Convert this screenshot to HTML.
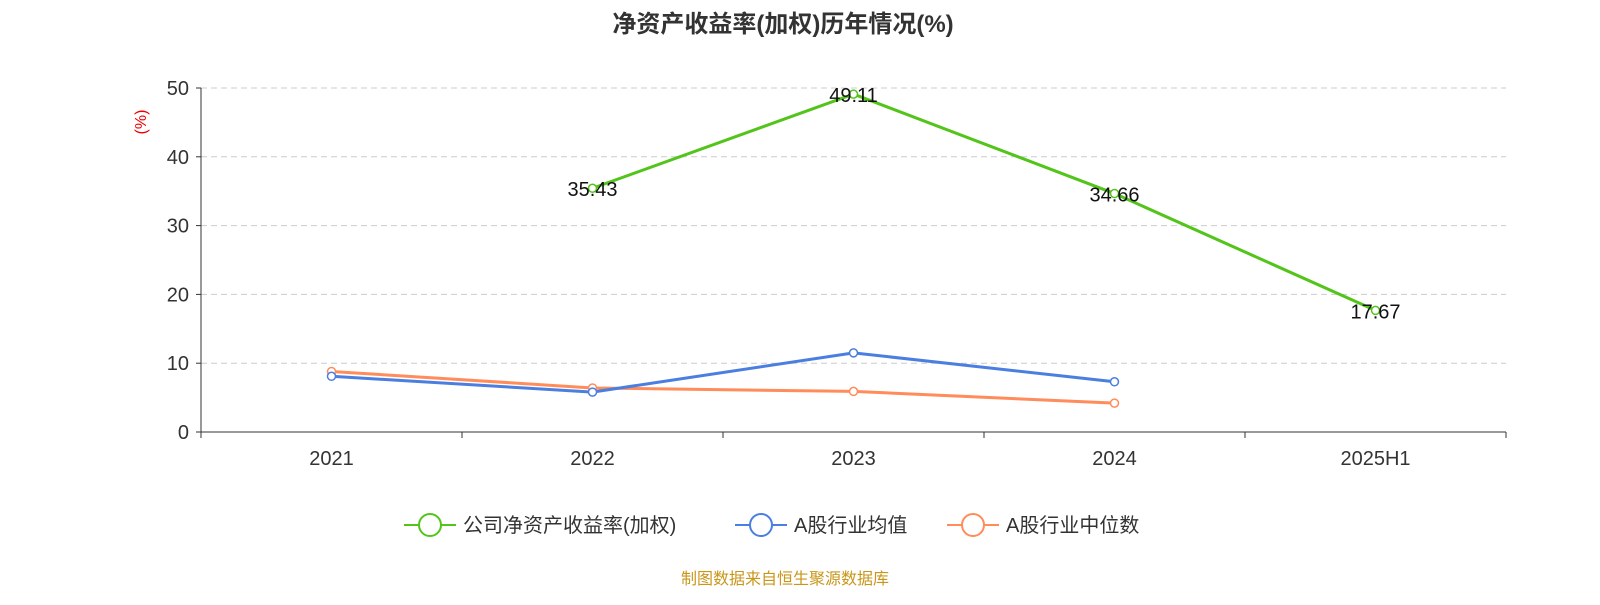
<!DOCTYPE html>
<html><head><meta charset="utf-8"><style>
body{margin:0;background:#fff;width:1600px;height:600px;overflow:hidden;font-family:"Liberation Sans","Noto Sans CJK SC",sans-serif;}
</style></head><body>
<svg id="c" width="1600" height="600" xmlns="http://www.w3.org/2000/svg" font-family="Liberation Sans, Noto Sans CJK SC, sans-serif">
<text x="783" y="32" text-anchor="middle" font-size="24" font-weight="bold" fill="#333">净资产收益率(加权)历年情况(%)</text>
<text x="146" y="122" text-anchor="middle" font-size="16" fill="#e00" transform="rotate(-90 146 122)">(%)</text>
<g id="grid"></g><g id="axes"></g><g id="series"></g>
<g font-size="20" fill="#333">
<g><line x1="404" y1="525" x2="456" y2="525" stroke="#52c41a" stroke-width="2"/><circle cx="430" cy="525" r="11" fill="#fff" stroke="#52c41a" stroke-width="2"/><text x="463" y="532">公司净资产收益率(加权)</text></g>
<g><line x1="735" y1="525" x2="787" y2="525" stroke="#4a7ee0" stroke-width="2"/><circle cx="761" cy="525" r="11" fill="#fff" stroke="#4a7ee0" stroke-width="2"/><text x="794" y="532">A股行业均值</text></g>
<g><line x1="947" y1="525" x2="999" y2="525" stroke="#ff8c5a" stroke-width="2"/><circle cx="973" cy="525" r="11" fill="#fff" stroke="#ff8c5a" stroke-width="2"/><text x="1006" y="532">A股行业中位数</text></g>
</g>
<text x="785" y="584" text-anchor="middle" font-size="16" fill="#c9961a">制图数据来自恒生聚源数据库</text>
</svg>
<script>
const categories=["2021","2022","2023","2024","2025H1"];
const companyValues=[null,35.43,49.11,34.66,17.67];
const meanValues=[8.1,5.8,11.5,7.3,null];
const medianValues=[8.8,6.4,5.9,4.2,null];
const yTicks=[0,10,20,30,40,50];
const NS="http://www.w3.org/2000/svg";
const x0=201,x1=1506,yTop=88,yBot=432,yMax=50;
const band=(x1-x0)/categories.length;
const xs=i=>x0+band*(i+0.5);
const ys=v=>yBot-(v/yMax)*(yBot-yTop);
function mk(tag,attrs,parent){const e=document.createElementNS(NS,tag);for(const k in attrs)e.setAttribute(k,attrs[k]);parent.appendChild(e);return e;}
const grid=document.getElementById('grid'),axes=document.getElementById('axes'),ser=document.getElementById('series');
yTicks.forEach(t=>{const y=ys(t);
 if(t>0){const g=mk('line',{x1:x0,x2:x1,y1:y,y2:y,stroke:'#ccc','stroke-dasharray':'6,4'},grid);
 
 }
 const tk=mk('line',{x1:x0-5,x2:x0,y1:y,y2:y,stroke:'#333'},axes);
 
 
 const tx=mk('text',{x:x0-12,y:y+7,'text-anchor':'end','font-size':20,fill:'#333'},axes);tx.textContent=t;
 
 
});
const ya=mk('line',{x1:x0,x2:x0,y1:yTop,y2:yBot,stroke:'#333'},axes);


const xa=mk('line',{x1:x0,x2:x1,y1:yBot,y2:yBot,stroke:'#333'},axes);


for(let i=0;i<=categories.length;i++){const x=x0+band*i;const t=mk('line',{x1:x,x2:x,y1:yBot,y2:yBot+6,stroke:'#333'},axes);
 
 }
categories.forEach((c,i)=>{const t=mk('text',{x:xs(i),y:465,'text-anchor':'middle','font-size':20,fill:'#333'},axes);t.textContent=c;
 
 });
function series(vals,color,name,labels){
 const pts=[];vals.forEach((v,i)=>{if(v!==null)pts.push([xs(i),ys(v),v]);});
 const p=mk('polyline',{points:pts.map(p=>p[0]+','+p[1]).join(' '),fill:'none',stroke:color,'stroke-width':3},ser);
 
 
 pts.forEach(q=>{const c=mk('circle',{cx:q[0],cy:q[1],r:4,fill:'#fff',stroke:color,'stroke-width':1.5},ser);
  
  
  if(labels){const t=mk('text',{x:q[0],y:q[1]+8,'text-anchor':'middle','font-size':20,fill:'#111'},ser);t.textContent=q[2].toFixed(2);
  
  }
 });
}
series(medianValues,'#ff8c5a','industry-median',false);
series(meanValues,'#4a7ee0','industry-mean',false);
series(companyValues,'#52c41a','company-roe',true);
</script>
</body></html>
